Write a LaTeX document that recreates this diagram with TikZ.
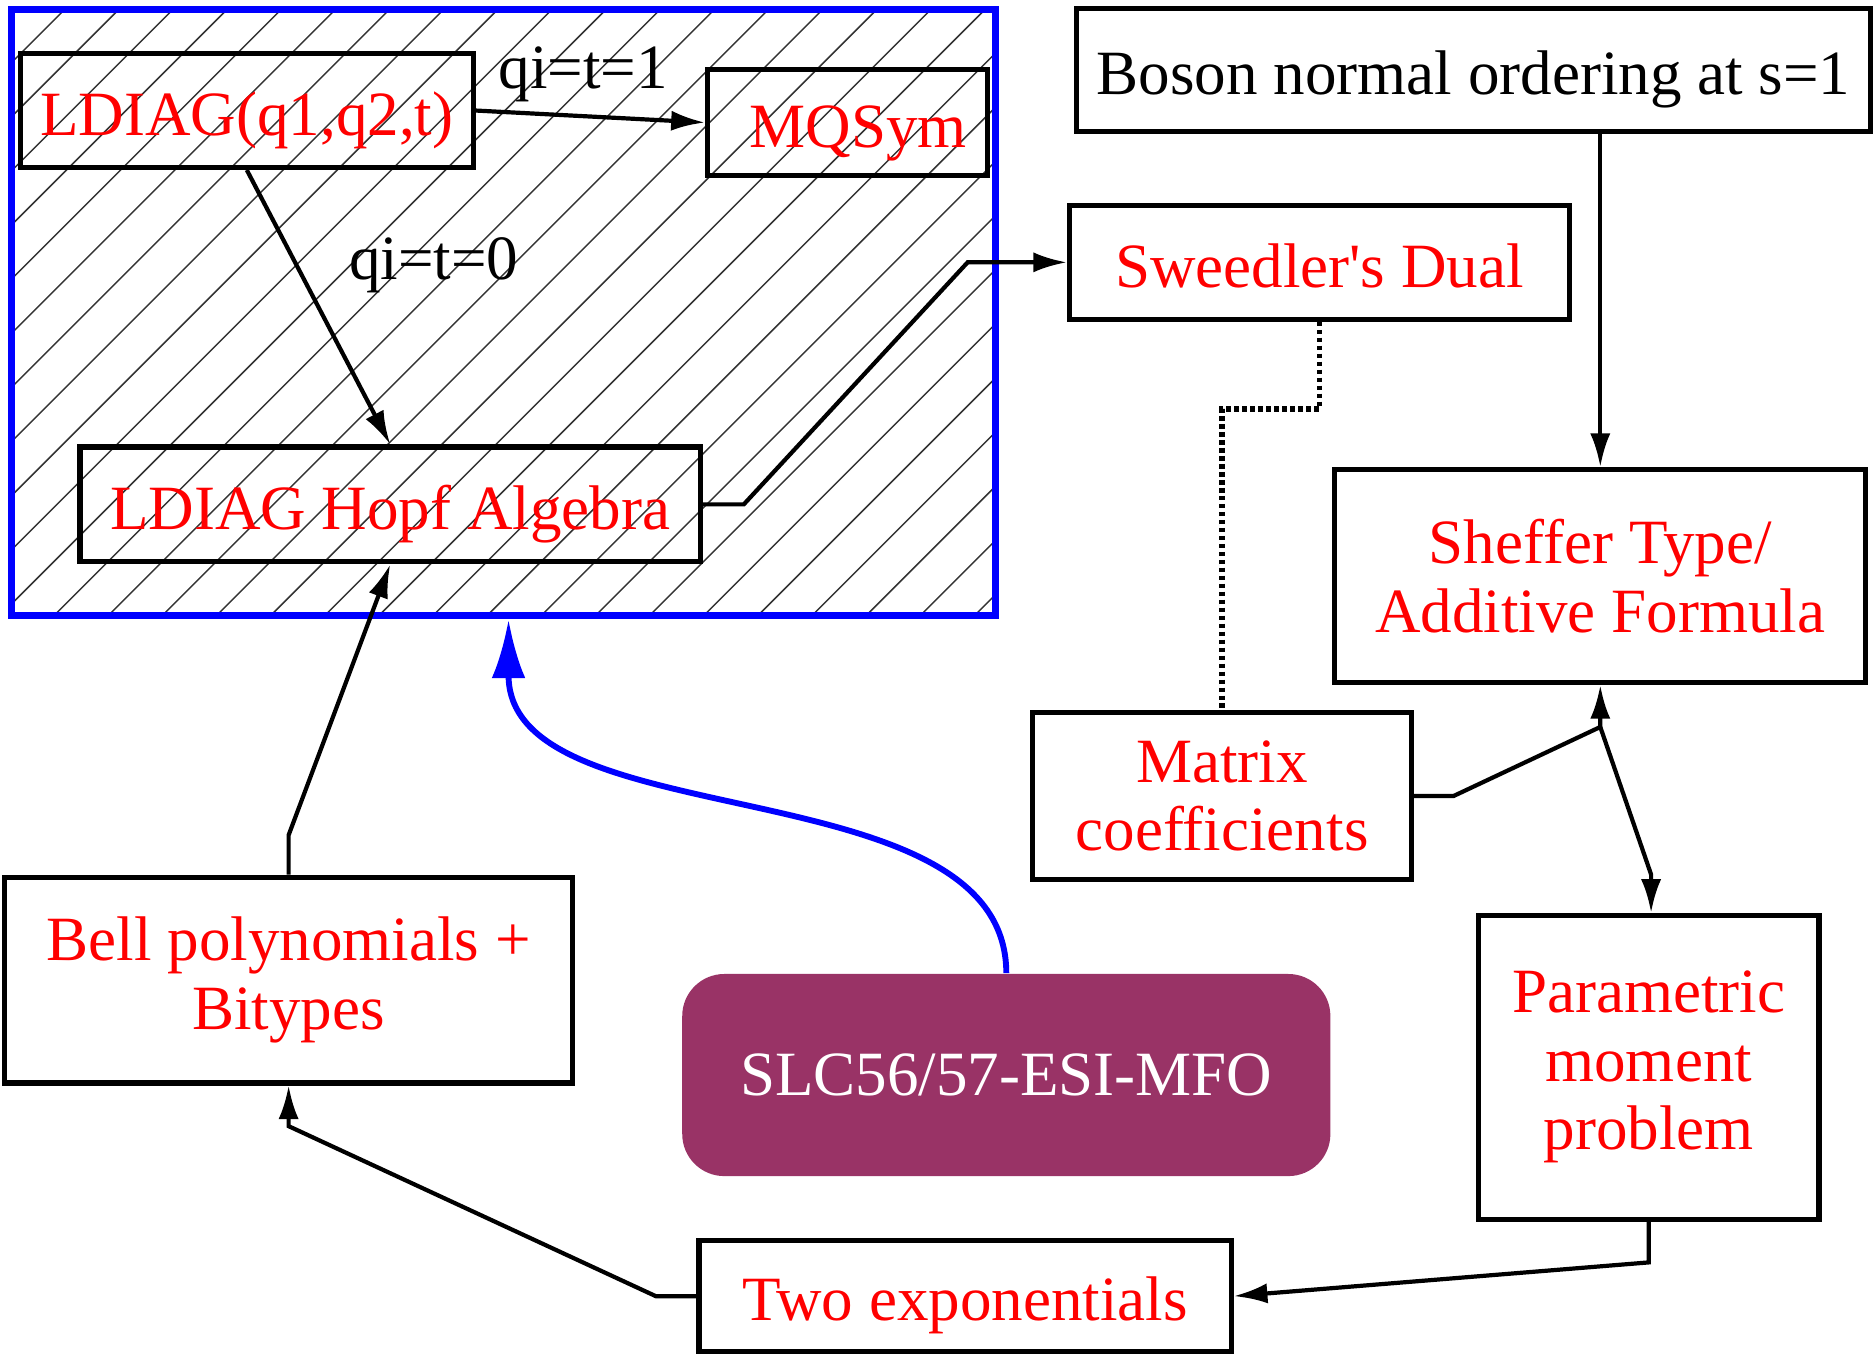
\documentclass[tikz,border=0pt]{standalone}
\usepackage{fontspec}
\setmainfont{Liberation Serif}
\usetikzlibrary{arrows.meta}

\definecolor{slcpurple}{RGB}{153,51,102}

\begin{document}
\begin{tikzpicture}[x=0.01cm,y=-0.01cm,>={Latex[length=8pt,width=4.8pt]},
    every node/.style={font=\fontsize{15}{16.3}\selectfont},
    box/.style={draw,line width=1.25pt,inner sep=0pt,text=red,align=center},
    oneline/.style={text height=11.8pt,text depth=0pt},
    link/.style={->,line width=1pt},
    hatchline/.style={draw=black!80,line width=0.35pt}]

\useasboundingbox (0,0) rectangle (1568,1133);

        \node[draw=blue,line width=1.7pt,minimum width=8.23cm,minimum height=5.07cm,
            path picture={\foreach \i in {-553.5,-508.2,...,830}
                \draw[hatchline] ([xshift=\i*0.01cm]path picture bounding box.south west) -- ++(600,-600);}]
            (frame) at (421.5,261.5) {};

        \node[box,oneline,minimum width=3.79cm,minimum height=0.95cm] (ldq) at (206.5,92.5) {LDIAG(q1,q2,t)};
        \node[box,oneline,minimum width=2.34cm,minimum height=0.89cm] (mq) at (709,102.5) {\hspace*{0.18cm}MQSym};
        \node[box,oneline,minimum width=5.19cm,minimum height=0.96cm] (hopf) at (326.5,422) {LDIAG Hopf Algebra};
        \node[box,oneline,text=black,minimum width=6.64cm,minimum height=1.03cm] (boson) at (1233,58.5) {Boson normal ordering at s=1};
        \node[box,oneline,minimum width=4.18cm,minimum height=0.95cm] (sw) at (1104,219.5) {Sweedler\textquotesingle s Dual};
        \node[box,minimum width=4.44cm,minimum height=1.78cm] (sh) at (1339,482) {Sheffer Type/\\Additive Formula};
        \node[box,minimum width=3.17cm,minimum height=1.40cm] (mc) at (1022.5,666) {Matrix\\coefficients};
        \node[box,minimum width=2.85cm,minimum height=2.54cm] (pm) at (1379.5,893) {Parametric\\moment\\problem};
        \node[box,minimum width=4.75cm,minimum height=1.72cm] (bell) at (241.5,820) {Bell polynomials +\\Bitypes};
        \node[box,oneline,minimum width=4.45cm,minimum height=0.93cm] (two) at (807.5,1084.5) {Two exponentials};
        \node[fill=slcpurple,rounded corners=10pt,text=white,minimum width=5.42cm,minimum height=1.69cm] (slc) at (842,899.5) {SLC56/57-ESI-MFO};

        \node (q1lbl) at (488,62) {qi=t=1};
        \node (q0lbl) at (363,222) {qi=t=0};

        \draw[link] (ldq.east) -- (mq.west);
        \draw[link] (ldq.south) -- (hopf.north);
        \draw[link] (hopf.east) -- ++(34,0) -- ([xshift=-0.83cm]sw.west) -- (sw.west);
        \draw[link] (sh.north |- boson.south) -- (sh.north);
        \draw[line width=1.3pt,dash pattern=on 1.1pt off 0.8pt] (sw.south) -- ++(0,73) -| (mc.north);
        \coordinate (fork) at ([yshift=-0.35cm]sh.south);
        \draw[link] (mc.east) -- ++(33,0) -- (fork) -- (sh.south);
        \draw[link] (fork) -- ([xshift=0.02cm,yshift=0.32cm]pm.north) -- ([xshift=0.02cm]pm.north);
        \draw[link] (pm.south) -- ++(0,34) -- (two.east);
        \draw[link] (two.west) -- ++(-34,0) -- ([yshift=-0.34cm]bell.south) -- (bell.south);
        \draw[link] (bell.north) -- ++(0,-33) -- (hopf.south);
        \draw[->,>={Latex[length=14pt,width=8pt]},blue,line width=1.4pt] (slc.north)
            .. controls +(0,-175) and +(0,185) .. ([xshift=0.04cm]frame.south);

    \end{tikzpicture}
\end{document}
